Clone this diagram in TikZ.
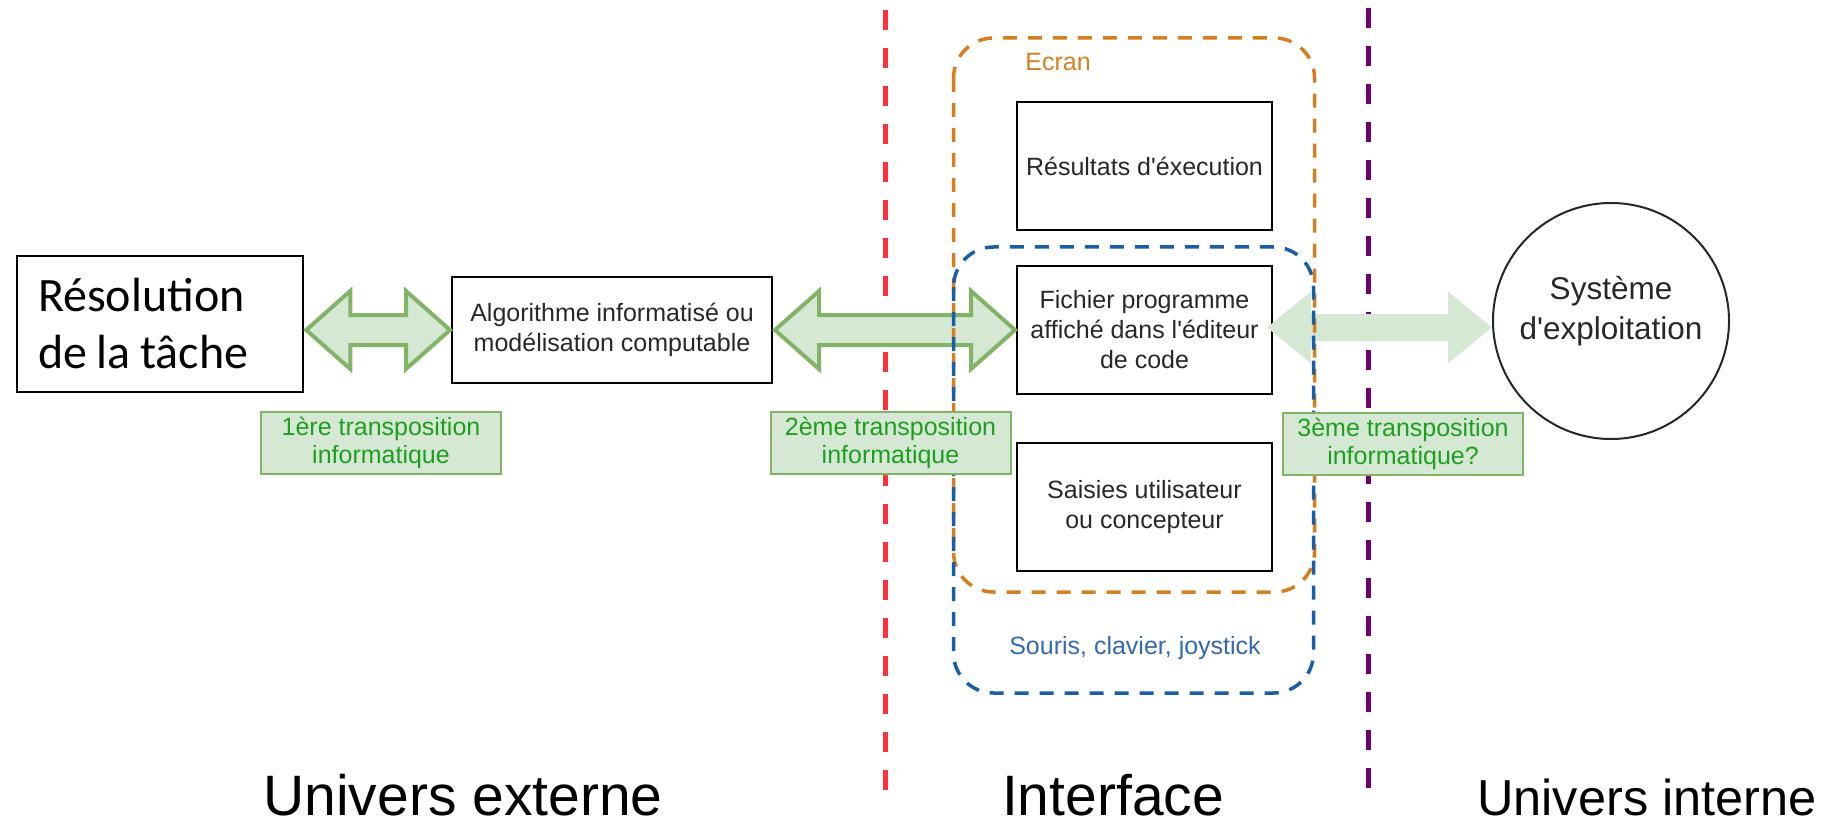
\documentclass[tikz,border=0pt]{standalone}
\usepackage{fontspec}
\setmainfont{Liberation Sans}
\newfontfamily\calib{Carlito}
\usetikzlibrary{calc}
\definecolor{grnstroke}{HTML}{82B366}
\definecolor{grnfill}{HTML}{D5E8D4}
\definecolor{grntext}{RGB}{30,158,30}
\definecolor{orng}{RGB}{214,126,32}
\definecolor{blu}{RGB}{26,94,168}
\definecolor{blutext}{RGB}{50,105,175}
\definecolor{redl}{RGB}{255,48,58}
\definecolor{purp}{RGB}{112,0,112}
\definecolor{boxtext}{RGB}{40,40,40}
% double arrow: style, start, end, head length, head half-height, shaft half-height
\newcommand{\DArrow}[6]{\path[#1] (#2) -- ++(#4,-#5) -- ++(0,#5-#6) -- ($(#3)+(-#4,-#6)$) -- ++(0,#6-#5) -- (#3) -- ++(-#4,#5) -- ++(0,#6-#5) -- ($(#2)+(#4,#6)$) -- ++(0,#5-#6) -- cycle;}
\newcommand{\apos}{\textquotesingle}
\begin{document}
\begin{tikzpicture}[x=1pt,y=-1pt,
  box/.style={draw=black, line width=2pt, fill=white, minimum width=255pt, minimum height=128pt, align=center, font=\fontsize{25}{30}\selectfont, text=boxtext, inner sep=2pt},
  lab/.style={draw=grnstroke, fill=grnfill, line width=2pt, minimum width=240pt, minimum height=62pt, align=center, font=\fontsize{25}{28}\selectfont, text=grntext, inner sep=1pt},
  sepline/.style={line width=5pt, dash pattern=on 20pt off 18pt},
  zone/.style={line width=3.5pt, dash pattern=on 14pt off 11pt, rounded corners=40pt},
  big/.style={font=\fontsize{57}{68}\selectfont, inner sep=0pt},
  dbl/.style={draw=grnstroke, fill=grnfill, line width=4pt, line join=miter},
  dbllight/.style={fill=grnfill},
  plain/.style={font=\fontsize{25}{30}\selectfont, inner sep=0pt}
]
\useasboundingbox (0,0) rectangle (1826,821);

% separators
\coordinate (rt) at (885,10);
\coordinate (rb) at (885,795);
\coordinate (pt) at (1368,8);
\coordinate (pb) at (1368,798);
\draw[sepline, redl] (rt) -- (rb);
\draw[sepline, purp] (pt) -- (pb);

% main nodes
\node[draw=black, line width=2.5pt, fill=white, minimum width=286pt, minimum height=136pt,
      text width=244pt, inner xsep=21pt, inner ysep=0pt, align=left,
      font=\calib\fontsize{48}{57}\selectfont] (res) at (160,324) {Résolution\\de\hspace{0.2em}la\hspace{0.2em}tâche};
\node[box, minimum width=320pt, minimum height=106pt] (algo) at (612,330) {Algorithme informatisé ou\\modélisation computable};
\node[box] (resu) at (1144.5,166) {Résultats d\apos éxecution};
\node[box] (fich) at (1144.5,330) {Fichier programme\\affiché dans l\apos éditeur\\de code};
\node[box] (sais) at (1144.5,507) {Saisies utilisateur\\ou concepteur};
\node[draw=black!85, line width=2pt, circle, minimum size=236pt, inner sep=0pt] (os) at (1611,321) {};
\node[font=\fontsize{31.5}{40}\selectfont, text=boxtext, align=center, inner sep=0pt] (ostxt) at (1611,311) {Système\\d\apos exploitation};

% arrows
\coordinate (a1s) at ($(res.east |- algo.west)+(2,0)$);
\coordinate (a1e) at ($(algo.west)+(-1,0)$);
\DArrow{dbl}{a1s}{a1e}{44}{39}{15}
\coordinate (a2s) at ($(algo.east)+(2,0)$);
\coordinate (a2e) at ($(fich.west)+(-1,0)$);
\DArrow{dbl}{a2s}{a2e}{44}{39}{15}
\coordinate (a3s) at ($(fich.east)+(-6,-2.5)$);
\coordinate (a3e) at (a3s -| os.west);
\DArrow{dbllight}{a3s}{a3e}{44}{36}{13.5}

% zones
\draw[zone, orng] (953.5,38) rectangle (1314.5,592);
\draw[zone, blu] (953.5,247) rectangle (1313.5,693);
\node[plain, text=orng] (ecran) at (1058,62) {Ecran};
\node[plain, text=blutext] (souris) at (1135,648) {Souris, clavier, joystick};

% labels
\node[lab] (t1) at (381,443) {1ère transposition\\informatique};
\node[lab] (t2) at (890.5,443) {2ème transposition\\informatique};
\node[lab] (t3) at (1403,444) {3ème transposition\\informatique?};

% bottom
\node[big, anchor=base] (ue) at (463,815) {Univers externe};
\node[big, anchor=base] (itf) at (1113,815) {Interface};
\node[big, font=\fontsize{50.5}{60}\selectfont, anchor=base west] (ui) at (1477,815) {Univers interne};
\end{tikzpicture}
\end{document}
